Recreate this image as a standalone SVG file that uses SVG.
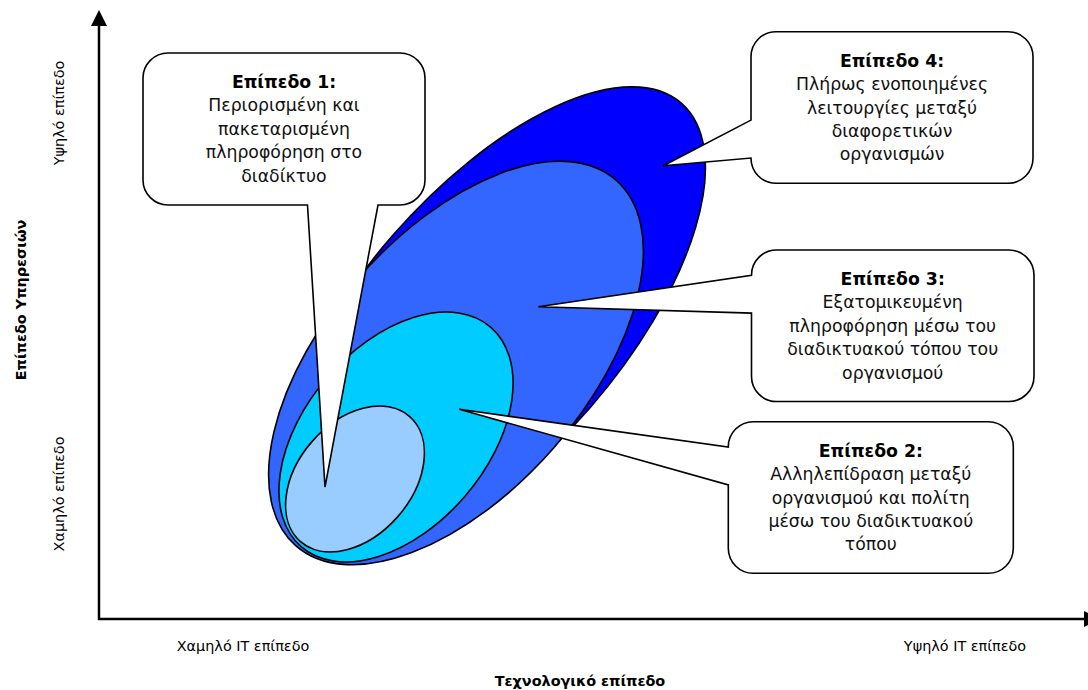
<svg xmlns="http://www.w3.org/2000/svg" width="1088" height="690" viewBox="0 0 1088 690">
  <defs>
    <style>
      .lvl { stroke: #000; stroke-width: 1.6; }
      .callout { fill: #fff; stroke: #000; stroke-width: 1.6; stroke-linejoin: miter; }
      .t { font-family: "DejaVu Sans", Verdana, sans-serif; font-size: 17.3px; fill: #111; text-anchor: middle; }
      .h { font-weight: bold; fill: #000; }
      .ax { font-family: "DejaVu Sans", Verdana, sans-serif; font-size: 14.4px; fill: #000; text-anchor: middle; }
      .axb { font-weight: bold; }
      .axis { stroke: #000; stroke-width: 2.5; fill: none; }
    </style>
    <marker id="arrow" viewBox="0 0 16 16" refX="1" refY="8" markerWidth="16" markerHeight="16" markerUnits="userSpaceOnUse" orient="auto">
      <path d="M0,0 L16,8 L0,16 Z" fill="#000"/>
    </marker>
  </defs>

  <rect width="1088" height="690" fill="#fff"/>

  <!-- axes -->
  <g id="connectors">
    <line class="axis" x1="99" y1="620" x2="99" y2="25" marker-end="url(#arrow)"/>
    <line class="axis" x1="98" y1="619" x2="1085" y2="619" marker-end="url(#arrow)"/>
  </g>

  <!-- axis labels -->
  <g id="axis-labels">
    <text class="ax" transform="translate(64,113) rotate(-90)">Υψηλό επίπεδο</text>
    <text class="ax" transform="translate(64,494) rotate(-90)">Χαμηλό επίπεδο</text>
    <text class="ax axb" transform="translate(26,300) rotate(-90)">Επίπεδο Υπηρεσιών</text>
    <text class="ax" x="243" y="651">Χαμηλό IT επίπεδο</text>
    <text class="ax" x="965" y="651">Υψηλό IT επίπεδο</text>
    <text class="ax axb" x="580" y="686">Τεχνολογικό επίπεδο</text>
  </g>

  <!-- nested service levels -->
  <g id="level4">
    <ellipse class="lvl" fill="#0000FF" cx="491" cy="322" rx="290" ry="131" transform="rotate(-49 491 322)"/>
  </g>
  <g id="level3">
    <ellipse class="lvl" fill="#3366FF" cx="456" cy="363" rx="243" ry="129.5" transform="rotate(-48.8 456 363)"/>
  </g>
  <g id="level2">
    <ellipse class="lvl" fill="#00CCFF" cx="396" cy="437" rx="145" ry="91" transform="rotate(-49.3 396 437)"/>
  </g>
  <g id="level1">
    <ellipse class="lvl" fill="#99CCFF" cx="355" cy="479" rx="83" ry="57" transform="rotate(-49 355 479)"/>
  </g>

  <!-- callouts -->
  <g id="callout1">
    <path class="callout" d="M168,53 H400 A25,25 0 0 1 425,78 V180 A25,25 0 0 1 400,205 H378 L325,487 L307.5,205 H168 A25,25 0 0 1 143,180 V78 A25,25 0 0 1 168,53 Z"/>
    <text class="t h" x="284" y="88">Επίπεδο 1:</text>
    <text class="t" x="284" y="111.4">Περιορισμένη και</text>
    <text class="t" x="284" y="134.8">πακεταρισμένη</text>
    <text class="t" x="284" y="158.2">πληροφόρηση στο</text>
    <text class="t" x="284" y="181.6">διαδίκτυο</text>
  </g>

  <g id="callout4">
    <path class="callout" d="M776,31.7 H1008 A25,25 0 0 1 1033,56.7 V158.3 A25,25 0 0 1 1008,183.3 H776 A25,25 0 0 1 751,158.3 V158 L663.3,165.7 L751,120.1 V56.7 A25,25 0 0 1 776,31.7 Z"/>
    <text class="t h" x="892" y="66.7">Επίπεδο 4:</text>
    <text class="t" x="892" y="90.1">Πλήρως ενοποιημένες</text>
    <text class="t" x="892" y="113.5">λειτουργίες μεταξύ</text>
    <text class="t" x="892" y="136.9">διαφορετικών</text>
    <text class="t" x="892" y="160.3">οργανισμών</text>
  </g>

  <g id="callout3">
    <path class="callout" d="M776.5,250 H1009 A25,25 0 0 1 1034,275 V376.5 A25,25 0 0 1 1009,401.5 H776.5 A25,25 0 0 1 751.5,376.5 V313.1 L538.3,306.7 L751.5,275.3 V275 A25,25 0 0 1 776.5,250 Z"/>
    <text class="t h" x="892.7" y="285">Επίπεδο 3:</text>
    <text class="t" x="892.7" y="308.4">Εξατομικευμένη</text>
    <text class="t" x="892.7" y="331.8">πληροφόρηση μέσω του</text>
    <text class="t" x="892.7" y="355.2">διαδικτυακού τόπου του</text>
    <text class="t" x="892.7" y="378.6">οργανισμού</text>
  </g>

  <g id="callout2">
    <path class="callout" d="M753.3,421.7 H988.3 A25,25 0 0 1 1013.3,446.7 V548.3 A25,25 0 0 1 988.3,573.3 H753.3 A25,25 0 0 1 728.3,548.3 V484.9 L459.3,409.3 L728.3,447 V446.7 A25,25 0 0 1 753.3,421.7 Z"/>
    <text class="t h" x="870.8" y="456.7">Επίπεδο 2:</text>
    <text class="t" x="870.8" y="480.1">Αλληλεπίδραση μεταξύ</text>
    <text class="t" x="870.8" y="503.5">οργανισμού και πολίτη</text>
    <text class="t" x="870.8" y="526.9">μέσω του διαδικτυακού</text>
    <text class="t" x="870.8" y="550.3">τόπου</text>
  </g>
</svg>
